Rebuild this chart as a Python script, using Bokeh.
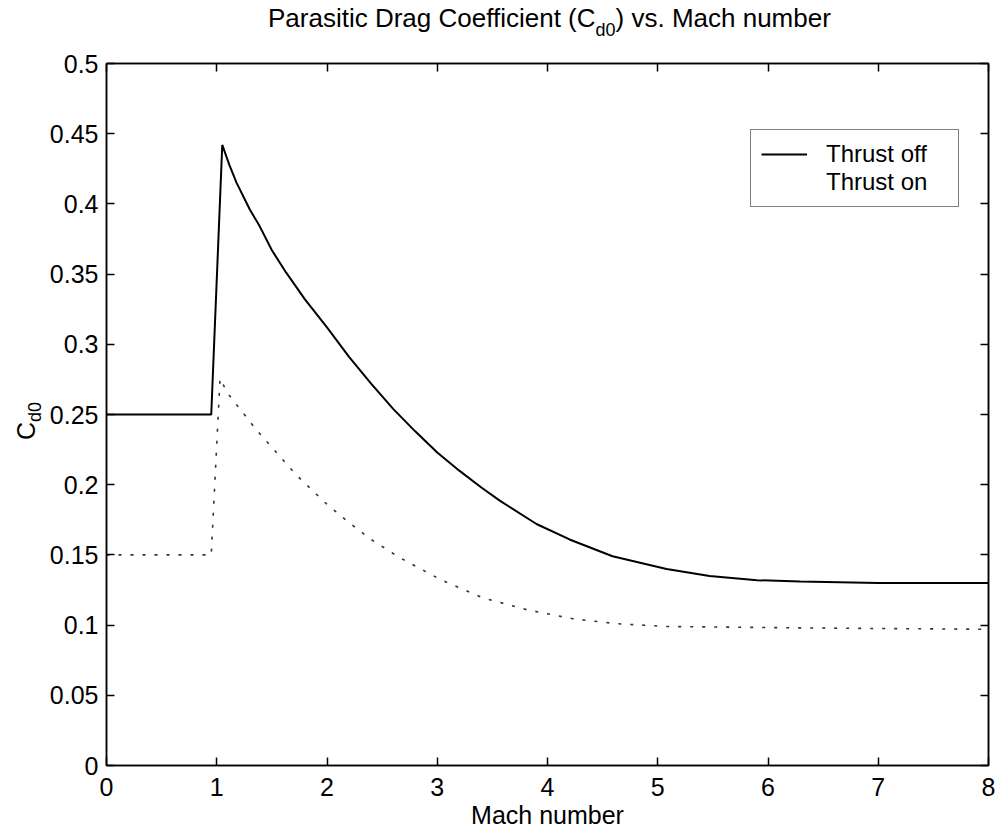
from bokeh.plotting import figure
from bokeh.models import (Range1d, FixedTicker, LinearAxis, CustomJSTickFormatter,
                          Legend, LegendItem, Div)
from bokeh.layouts import column, row
from bokeh.embed import file_html
from bokeh.resources import INLINE

# ---- data ----
mach_off = [0, 0.95, 1.05, 1.115, 1.18, 1.30, 1.39, 1.50, 1.63, 1.8, 2.0, 2.2, 2.4,
            2.6, 2.8, 3.0, 3.2, 3.4, 3.57, 3.9, 4.2, 4.59, 5.08, 5.47, 5.9, 6.29, 7.0, 8.0]
cd0_off = [0.25, 0.25, 0.442, 0.4276, 0.415, 0.396, 0.384, 0.367, 0.351, 0.332, 0.312,
           0.291, 0.272, 0.254, 0.238, 0.223, 0.210, 0.198, 0.1885, 0.172, 0.161, 0.149,
           0.140, 0.135, 0.132, 0.131, 0.130, 0.130]

mach_on = [0, 0.95, 1.03, 1.10, 1.36, 1.72, 2.0, 2.2, 2.4, 2.66, 3.04, 3.41, 3.81,
           4.23, 4.63, 5.08, 6.29, 8.0]
cd0_on = [0.15, 0.15, 0.2756, 0.265, 0.239, 0.207, 0.186, 0.173, 0.161, 0.148, 0.132,
          0.1195, 0.111, 0.1045, 0.101, 0.099, 0.098, 0.097]

x_ticks = [0, 1, 2, 3, 4, 5, 6, 7, 8]
y_ticks = [0, 0.05, 0.1, 0.15, 0.2, 0.25, 0.3, 0.35, 0.4, 0.45, 0.5]

series_names = ["Thrust off", "Thrust on"]
title_main = "Parasitic Drag Coefficient (C"
title_sub = "d0"
title_tail = ") vs. Mach number"
x_label = "Mach number"
y_label_main = "C"
y_label_sub = "d0"

FONT = "Liberation Sans"

# page layout: frame 106..988 x 63..765 on a 997x837 page
W, H = 997, 837
L, R, T, B = 106, 988, 63, 765
TITLE_H = 40
YLAB_W = 45

# ---- title (HTML, with a real subscript) ----
title_html = (
    f'<div style="margin-left:268px; padding-top:3px; white-space:nowrap; '
    f'font-family:\'{FONT}\'; font-size:26px; line-height:30px; color:black;">'
    f'{title_main}<span style="position:relative; top:9px; font-size:18px;">'
    f'{title_sub}</span>{title_tail}</div>'
)
title_div = Div(text=title_html, width=W, height=TITLE_H, margin=(0, 0, 0, 0))

# ---- rotated y-axis label C_d0 ----
ylab_html = (
    f'<div style="margin-top:{440 - TITLE_H}px; margin-left:14px; white-space:nowrap; '
    f'width:60px; transform:rotate(-90deg); transform-origin:left top; '
    f'font-family:\'{FONT}\'; font-size:25px; line-height:25px; color:black;">'
    f'{y_label_main}<span style="position:relative; top:6px; font-size:18px;">'
    f'{y_label_sub}</span></div>'
)
ylab_div = Div(text=ylab_html, width=YLAB_W, height=H - TITLE_H, margin=(0, 0, 0, 0))

# ---- figure ----
p = figure(width=W - YLAB_W, height=H - TITLE_H, x_range=Range1d(0, 8),
           y_range=Range1d(0, 0.5), output_backend="svg", toolbar_location=None,
           min_border_left=L - YLAB_W, min_border_right=W - R,
           min_border_top=T - TITLE_H, min_border_bottom=H - B)
p.background_fill_color = "white"
p.border_fill_color = "white"
p.outline_line_color = "black"
p.outline_line_width = 1.5
p.grid.visible = False

ytick_fmt = CustomJSTickFormatter(code="""
    let s = tick.toFixed(2);
    s = s.replace(/0+$/, '').replace(/\\.$/, '');
    return s;
""")
empty_fmt = CustomJSTickFormatter(code="return '';")

def style_axis(ax):
    ax.axis_line_color = "black"
    ax.axis_line_width = 1.5
    ax.major_tick_in = 8
    ax.major_tick_out = 0
    ax.major_tick_line_width = 1.5
    ax.minor_tick_line_color = None
    ax.major_label_text_font = FONT
    ax.major_label_text_font_size = "25px"
    ax.major_label_text_color = "black"

xa = p.xaxis[0]
xa.ticker = FixedTicker(ticks=x_ticks)
style_axis(xa)
xa.major_label_standoff = 12
xa.axis_label = x_label
xa.axis_label_text_font = FONT
xa.axis_label_text_font_size = "25px"
xa.axis_label_text_font_style = "normal"
xa.axis_label_text_color = "black"
xa.axis_label_standoff = 2

ya = p.yaxis[0]
ya.ticker = FixedTicker(ticks=y_ticks)
ya.formatter = ytick_fmt
style_axis(ya)
ya.major_label_standoff = 8

top = LinearAxis(ticker=FixedTicker(ticks=x_ticks), formatter=empty_fmt)
style_axis(top)
top.major_label_text_font_size = "1px"
top.major_label_standoff = 0
p.add_layout(top, "above")

right = LinearAxis(ticker=FixedTicker(ticks=y_ticks), formatter=empty_fmt)
style_axis(right)
right.major_label_text_font_size = "1px"
right.major_label_standoff = 0
p.add_layout(right, "right")

r_off = p.line(mach_off, cd0_off, line_color="black", line_width=2)
r_on = p.line(mach_on, cd0_on, line_color="#333333", line_width=1.6, line_dash="3 9")
# legend sample of the dotted line is almost invisible in the scanned reference
r_on_leg = p.line([], [], line_color="#dddddd", line_width=1, line_dash="1 5")

legend = Legend(items=[LegendItem(label=series_names[0], renderers=[r_off]),
                       LegendItem(label=series_names[1], renderers=[r_on_leg])],
                location=(750 - L, B - 207))
legend.border_line_color = "black"
legend.border_line_width = 1
legend.background_fill_color = "white"
legend.background_fill_alpha = 1
legend.label_text_font = FONT
legend.label_text_font_size = "24px"
legend.label_text_color = "black"
legend.glyph_width = 46
legend.glyph_height = 28
legend.label_height = 28
legend.label_width = 122
legend.label_standoff = 19
legend.padding = 10
legend.spacing = 0
legend.margin = 0
p.add_layout(legend, "center")

layout = column(title_div, row(ylab_div, p, spacing=0), spacing=0)

open("out.html", "w").write(file_html(layout, INLINE))
